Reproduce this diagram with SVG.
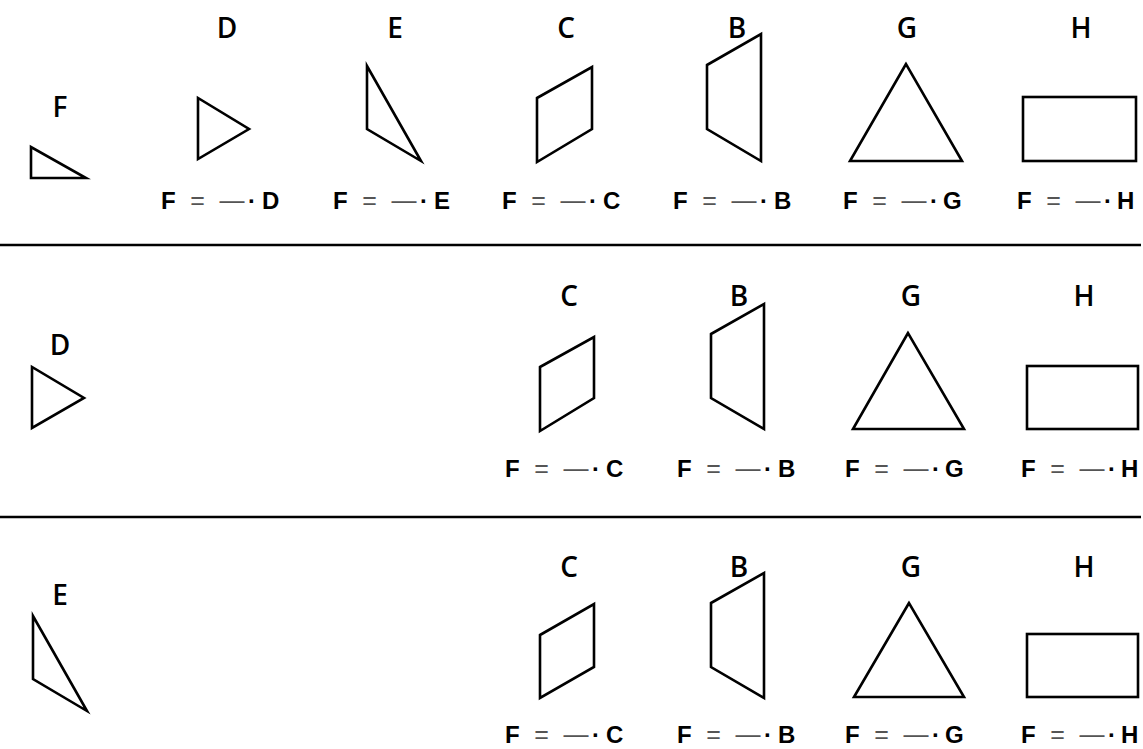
<svg xmlns="http://www.w3.org/2000/svg" width="1143" height="749" viewBox="0 0 1143 749">
<style>
.s{fill:none;stroke:#000;stroke-width:2.6;stroke-linejoin:miter}
.sep{stroke:#000;stroke-width:2.6}
.lbl{font-family:"Open Sans","DejaVu Sans",sans-serif;font-size:28px;font-weight:600;fill:#000;text-anchor:middle}
.f{font-family:"Liberation Sans",Arial,sans-serif;font-size:24px;font-weight:bold;fill:#000}
.op{font-weight:normal;fill:#555;text-anchor:middle;font-size:25px}
.dot{text-anchor:middle}
</style>
<rect width="1143" height="749" fill="#fff"/>
<g id="separators">
<line class="sep" x1="0" y1="245" x2="1141" y2="245"/>
<line class="sep" x1="0" y1="517" x2="1141" y2="517"/>
</g>
<!-- Row 1 -->
<g id="r1-F">
<text class="lbl" x="60" y="117">F</text>
<polygon class="s" points="31,147 31,178 86,178"/>
</g>
<g id="r1-D">
<text class="lbl" x="227" y="38">D</text>
<polygon class="s" points="198,98 198,159 249,129"/>
<text class="f" y="209"><tspan x="161">F</tspan><tspan class="op" x="197.5">=</tspan><tspan class="op" x="232">—</tspan><tspan class="dot" x="252">·</tspan><tspan x="262">D</tspan></text>
</g>
<g id="r1-E">
<text class="lbl" x="395" y="38">E</text>
<polygon class="s" points="367,66 367,129 421,161"/>
<text class="f" y="209"><tspan x="333">F</tspan><tspan class="op" x="369.5">=</tspan><tspan class="op" x="404">—</tspan><tspan class="dot" x="424">·</tspan><tspan x="434">E</tspan></text>
</g>
<g id="r1-C">
<text class="lbl" x="566" y="38">C</text>
<polygon class="s" points="537,98 592,67 592,129 537,162"/>
<text class="f" y="209"><tspan x="502">F</tspan><tspan class="op" x="538.5">=</tspan><tspan class="op" x="573">—</tspan><tspan class="dot" x="593">·</tspan><tspan x="603">C</tspan></text>
</g>
<g id="r1-B">
<text class="lbl" x="737" y="38">B</text>
<polygon class="s" points="707,65 761,34 761,161 707,129"/>
<text class="f" y="209"><tspan x="673">F</tspan><tspan class="op" x="709.5">=</tspan><tspan class="op" x="744">—</tspan><tspan class="dot" x="764">·</tspan><tspan x="774">B</tspan></text>
</g>
<g id="r1-G">
<text class="lbl" x="907" y="38">G</text>
<polygon class="s" points="906,64 850,161 962,161"/>
<text class="f" y="209"><tspan x="843">F</tspan><tspan class="op" x="879.5">=</tspan><tspan class="op" x="914">—</tspan><tspan class="dot" x="934">·</tspan><tspan x="943">G</tspan></text>
</g>
<g id="r1-H">
<text class="lbl" x="1081" y="38">H</text>
<rect class="s" x="1023" y="97" width="113" height="64"/>
<text class="f" y="209"><tspan x="1017">F</tspan><tspan class="op" x="1053.5">=</tspan><tspan class="op" x="1088">—</tspan><tspan class="dot" x="1108">·</tspan><tspan x="1117">H</tspan></text>
</g>
<!-- Row 2 -->
<g id="r2-D">
<text class="lbl" x="60" y="355">D</text>
<polygon class="s" points="32,367 32,428 84,398"/>
</g>
<g id="r2-C">
<text class="lbl" x="569" y="306">C</text>
<polygon class="s" points="540,367 594,337 594,398 540,431"/>
<text class="f" y="477"><tspan x="505">F</tspan><tspan class="op" x="541.5">=</tspan><tspan class="op" x="576">—</tspan><tspan class="dot" x="596">·</tspan><tspan x="606">C</tspan></text>
</g>
<g id="r2-B">
<text class="lbl" x="739" y="306">B</text>
<polygon class="s" points="711,334 764,304 764,429 711,398"/>
<text class="f" y="477"><tspan x="677">F</tspan><tspan class="op" x="713.5">=</tspan><tspan class="op" x="748">—</tspan><tspan class="dot" x="768">·</tspan><tspan x="778">B</tspan></text>
</g>
<g id="r2-G">
<text class="lbl" x="911" y="306">G</text>
<polygon class="s" points="908,333 853,429 964,429"/>
<text class="f" y="477"><tspan x="845">F</tspan><tspan class="op" x="881.5">=</tspan><tspan class="op" x="916">—</tspan><tspan class="dot" x="936">·</tspan><tspan x="945">G</tspan></text>
</g>
<g id="r2-H">
<text class="lbl" x="1084" y="306">H</text>
<rect class="s" x="1027" y="366" width="111" height="63"/>
<text class="f" y="477"><tspan x="1021">F</tspan><tspan class="op" x="1057.5">=</tspan><tspan class="op" x="1092">—</tspan><tspan class="dot" x="1112">·</tspan><tspan x="1121">H</tspan></text>
</g>
<!-- Row 3 -->
<g id="r3-E">
<text class="lbl" x="60" y="605">E</text>
<polygon class="s" points="33,616 33,679 87,711"/>
</g>
<g id="r3-C">
<text class="lbl" x="569" y="577">C</text>
<polygon class="s" points="540,635 594,604 594,667 540,698"/>
<text class="f" y="743"><tspan x="505">F</tspan><tspan class="op" x="541.5">=</tspan><tspan class="op" x="576">—</tspan><tspan class="dot" x="596">·</tspan><tspan x="606">C</tspan></text>
</g>
<g id="r3-B">
<text class="lbl" x="739" y="577">B</text>
<polygon class="s" points="711,603 764,573 764,698 711,667"/>
<text class="f" y="743"><tspan x="677">F</tspan><tspan class="op" x="713.5">=</tspan><tspan class="op" x="748">—</tspan><tspan class="dot" x="768">·</tspan><tspan x="778">B</tspan></text>
</g>
<g id="r3-G">
<text class="lbl" x="911" y="577">G</text>
<polygon class="s" points="909,603 854,697 964,697"/>
<text class="f" y="743"><tspan x="845">F</tspan><tspan class="op" x="881.5">=</tspan><tspan class="op" x="916">—</tspan><tspan class="dot" x="936">·</tspan><tspan x="945">G</tspan></text>
</g>
<g id="r3-H">
<text class="lbl" x="1084" y="577">H</text>
<rect class="s" x="1027" y="634" width="111" height="63"/>
<text class="f" y="743"><tspan x="1021">F</tspan><tspan class="op" x="1057.5">=</tspan><tspan class="op" x="1092">—</tspan><tspan class="dot" x="1112">·</tspan><tspan x="1121">H</tspan></text>
</g>
</svg>
